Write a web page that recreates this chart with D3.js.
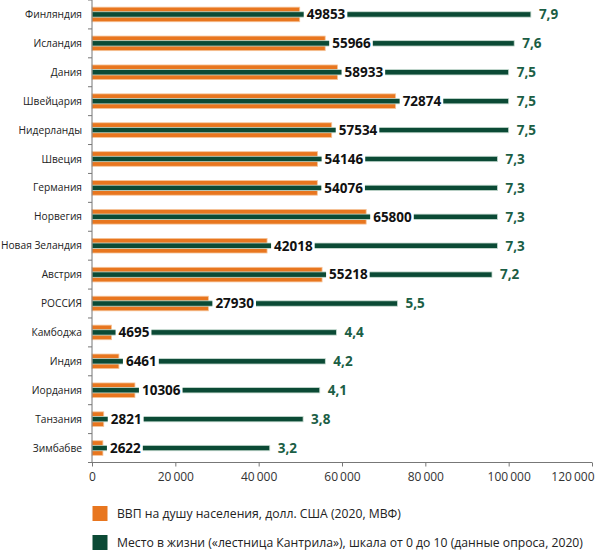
<!DOCTYPE html>
<html><head><meta charset="utf-8">
<script src="https://cdn.jsdelivr.net/npm/d3@7"></script>
<style>
body{margin:0;background:#fff;}
text{font-family:"Open Sans","DejaVu Sans",sans-serif;}
</style></head>
<body><svg id="c" width="600" height="551"></svg>
<script>
const countries = ["Финляндия","Исландия","Дания","Швейцария","Нидерланды","Швеция","Германия","Норвегия","Новая Зеландия","Австрия","РОССИЯ","Камбоджа","Индия","Иордания","Танзания","Зимбабве"];
const gdp = [49853,55966,58933,72874,57534,54146,54076,65800,42018,55218,27930,4695,6461,10306,2821,2622];
const ladder = [7.9,7.6,7.5,7.5,7.5,7.3,7.3,7.3,7.3,7.2,5.5,4.4,4.2,4.1,3.8,3.2];
const xTicks = [0,20000,40000,60000,80000,100000,120000];
const legendLabels = ["ВВП на душу населения, долл. США (2020, МВФ)","Место в жизни («лестница Кантрила»), шкала от 0 до 10 (данные опроса, 2020)"];

const orange = "#E8761F", green = "#0B4A35", greenText = "#1B5E45";
const svg = d3.select("#c");
const x0 = 92, x1 = 592, yTop = 0, yBot = 462.5;
const x = d3.scaleLinear().domain([0,120000]).range([x0,x1]);
const xL = d3.scaleLinear().domain([0,9]).range([x0,x1]);
const y = d3.scaleBand().domain(countries).range([yTop,yBot]);
const loc = d3.formatLocale({decimal:",",thousands:"\u2009",grouping:[3],currency:["",""]});
const fTick = loc.format(",d");
const fL = v => d3.format(".1f")(v).replace(".",",");

const data = countries.map((c,i)=>({c,g:gdp[i],l:ladder[i]}));

// orange bars
svg.append("g").selectAll("rect").data(data).join("rect")
  .attr("x",x(0)).attr("y",d=>y(d.c)+y.bandwidth()/2-7.3)
  .attr("width",d=>x(d.g)-x(0)).attr("height",14.6)
  .attr("fill",orange).attr("stroke","#F6C59A").attr("stroke-width",0.8);

// green bars
svg.append("g").selectAll("rect").data(data).join("rect")
  .attr("x",x(0)).attr("y",d=>y(d.c)+y.bandwidth()/2-2.7)
  .attr("width",d=>xL(d.l)-x(0)).attr("height",5.4)
  .attr("fill",green).attr("stroke","#C9DDD3").attr("stroke-width",0.8);

// gdp value labels with white background
const lab = svg.append("g").selectAll("g").data(data).join("g")
  .attr("transform",d=>`translate(${x(d.g)+7},${y(d.c)+y.bandwidth()/2})`);
lab.append("rect").attr("class","bg").attr("fill","#fff");
lab.append("text").text(d=>d.g).attr("dy","0.36em")
  .attr("font-size",13.5).attr("font-weight",700).attr("fill","#111");
lab.each(function(){
  const t = d3.select(this).select("text").node();
  const w = t.getComputedTextLength();
  d3.select(this).select("rect").attr("x",-3).attr("y",-4).attr("width",w+5).attr("height",8);
});

// ladder value labels
svg.append("g").selectAll("text").data(data).join("text")
  .attr("x",d=>xL(d.l)+8).attr("y",d=>y(d.c)+y.bandwidth()/2).attr("dy","0.36em")
  .attr("font-size",13.5).attr("font-weight",700).attr("fill",greenText)
  .text(d=>fL(d.l));

// y axis
const ya = svg.append("g");
ya.append("line").attr("x1",x0).attr("x2",x0).attr("y1",yTop).attr("y2",yBot).attr("stroke","#777");
ya.selectAll("line.t").data(d3.range(countries.length+1)).join("line").attr("class","t")
  .attr("x1",x0-4).attr("x2",x0).attr("y1",i=>yTop+i*y.step()).attr("y2",i=>yTop+i*y.step()).attr("stroke","#777");
ya.selectAll("text").data(countries).join("text")
  .attr("x",x0-10).attr("y",d=>y(d)+y.bandwidth()/2).attr("dy","0.35em")
  .attr("text-anchor","end").attr("font-size",10.2).attr("fill","#222").text(d=>d);

// x axis
const xa = svg.append("g").attr("transform",`translate(0,${yBot})`)
  .call(d3.axisBottom(x).tickValues(xTicks).tickFormat(fTick).tickSize(4).tickPadding(6));
xa.select(".domain").attr("stroke","#777").attr("d",`M${x0},0H${x1}`);
xa.selectAll(".tick line").attr("stroke","#777");
xa.selectAll(".tick text").attr("font-size",12).attr("fill","#333")
  .attr("font-family",'"Open Sans","DejaVu Sans",sans-serif')
  .filter(d=>d===120000).attr("text-anchor","end").attr("x",2);

// legend
const leg = svg.append("g");
[orange,green].forEach((col,i)=>{
  const ly = 506 + i*29;
  leg.append("rect").attr("x",92.5).attr("y",ly).attr("width",15).attr("height",15).attr("fill",col);
  leg.append("text").attr("x",117).attr("y",ly+7.5).attr("dy","0.35em")
    .attr("font-size",12.2).attr("fill","#222").text(legendLabels[i]);
});
</script></body></html>
